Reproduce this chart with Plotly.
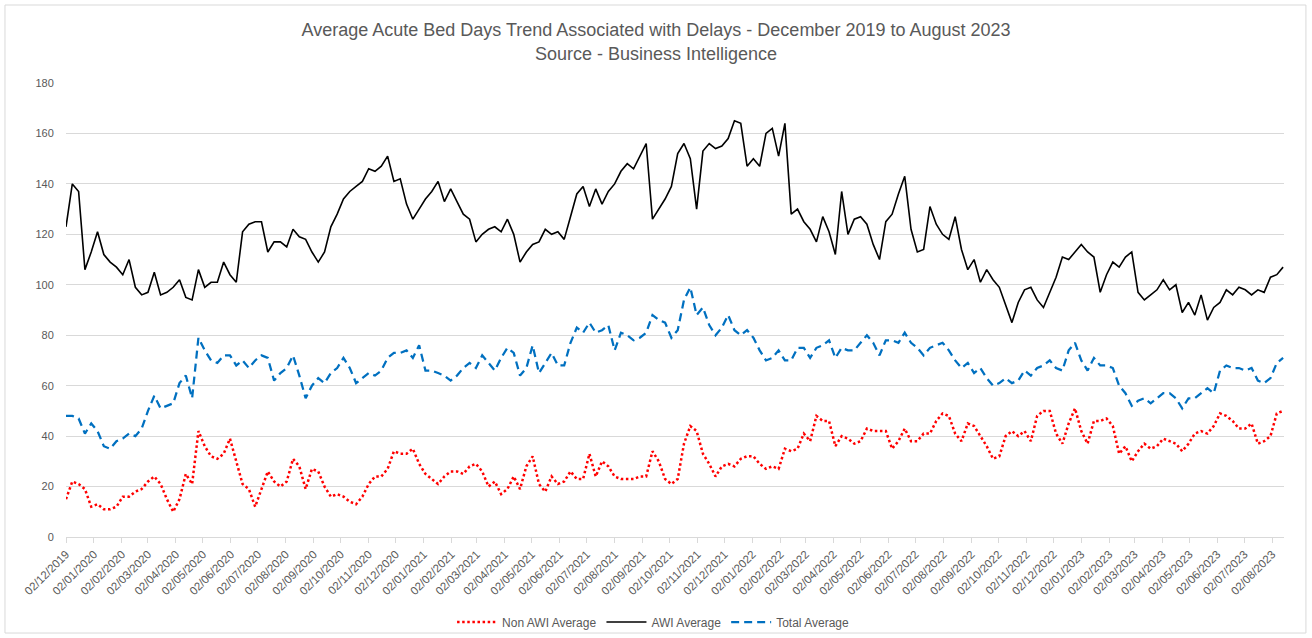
import pandas as pd
import plotly.graph_objects as go

# weekly sampled readings, starting 02/12/2019
start_date = "2019-12-02"

awi_average = [
    123, 140, 137, 106, 113, 121, 112, 109, 107, 104,
    110, 99, 96, 97, 105, 96, 97, 99, 102, 95,
    94, 106, 99, 101, 101, 109, 104, 101, 121, 124,
    125, 125, 113, 117, 117, 115, 122, 119, 118, 113,
    109, 113, 123, 128, 134, 137, 139, 141, 146, 145,
    147, 151, 141, 142, 132, 126, 130, 134, 137, 141,
    133, 138, 133, 128, 126, 117, 120, 122, 123, 121,
    126, 120, 109, 113, 116, 117, 122, 120, 121, 118,
    127, 136, 139, 131, 138, 132, 137, 140, 145, 148,
    146, 151, 156, 126, 130, 134, 139, 152, 156, 150,
    130, 153, 156, 154, 155, 158, 165, 164, 147, 150,
    147, 160, 162, 151, 164, 128, 130, 125, 122, 117,
    127, 121, 112, 137, 120, 126, 127, 124, 116, 110,
    125, 128, 136, 143, 122, 113, 114, 131, 124, 120,
    118, 127, 114, 106, 110, 101, 106, 102, 99, 92,
    85, 93, 98, 99, 94, 91, 97, 103, 111, 110,
    113, 116, 113, 111, 97, 104, 109, 107, 111, 113,
    97, 94, 96, 98, 102, 98, 100, 89, 93, 88,
    96, 86, 91, 93, 98, 96, 99, 98, 96, 98,
    97, 103, 104, 107,
]

total_average = [
    48, 48, 47, 41, 45, 42, 36, 35, 38, 39,
    41, 40, 43, 50, 56, 51, 52, 53, 61, 64,
    55, 79, 74, 70, 69, 72, 72, 68, 70, 67,
    70, 72, 71, 62, 65, 67, 72, 64, 55, 60,
    63, 61, 65, 67, 71, 67, 61, 63, 65, 64,
    66, 71, 73, 73, 74, 71, 76, 66, 66, 65,
    64, 62, 64, 67, 69, 67, 72, 69, 66, 71,
    75, 73, 64, 67, 76, 65, 69, 73, 68, 68,
    77, 83, 81, 85, 81, 82, 84, 74, 81, 80,
    78, 79, 81, 88, 86, 85, 79, 82, 94, 99,
    88, 91, 84, 80, 83, 88, 82, 80, 82, 79,
    74, 70, 71, 74, 70, 70, 75, 75, 71, 75,
    76, 78, 71, 75, 74, 74, 77, 80, 77, 72,
    78, 78, 77, 81, 77, 75, 72, 75, 76, 77,
    74, 70, 67, 69, 65, 67, 63, 60, 61, 63,
    61, 62, 66, 64, 67, 68, 70, 67, 66, 74,
    77, 70, 66, 71, 68, 68, 67, 60, 57, 52,
    54, 55, 53, 55, 57, 57, 55, 51, 55, 55,
    57, 59, 57, 66, 68, 67, 67, 66, 67, 62,
    61, 63, 69, 71,
]

non_awi_average = [
    15, 22, 21, 19, 12, 13, 11, 11, 12, 16,
    16, 18, 19, 22, 24, 21, 15, 10, 15, 25,
    21, 42, 36, 32, 31, 33, 39, 30, 21, 19,
    12, 19, 26, 22, 20, 22, 31, 28, 19, 27,
    26, 20, 16, 17, 16, 14, 13, 16, 21, 24,
    24, 27, 34, 33, 33, 35, 29, 25, 23, 21,
    24, 26, 26, 25, 28, 29, 26, 20, 22, 17,
    19, 24, 19, 28, 32, 21, 18, 24, 21, 22,
    26, 23, 23, 33, 24, 30, 28, 24, 23, 23,
    23, 24, 24, 34, 30, 23, 21, 23, 37, 44,
    42, 33, 29, 24, 28, 29, 28, 31, 32, 32,
    29, 27, 28, 27, 35, 34, 35, 41, 38, 48,
    46, 46, 36, 40, 39, 37, 38, 43, 42, 42,
    42, 35, 38, 43, 38, 38, 41, 41, 46, 49,
    48, 41, 38, 45, 44, 40, 36, 31, 32, 40,
    42, 40, 42, 38, 48, 50, 50, 41, 37, 45,
    51, 42, 37, 46, 46, 47, 44, 33, 36, 30,
    34, 37, 35, 36, 39, 38, 37, 34, 37, 41,
    42, 41, 44, 49, 48, 46, 43, 43, 45, 37,
    38, 40, 49, 50,
]

dates = pd.date_range(start_date, periods=len(awi_average), freq="7D")
tick_dates = pd.date_range(start_date, periods=45, freq=pd.DateOffset(months=1))
tick_labels = [d.strftime("%d/%m/%Y") for d in tick_dates]

title_text = ("Average Acute Bed Days Trend Associated with Delays - December 2019 to August 2023"
              "<br>Source - Business Intelligence")

FONT = "Liberation Sans, Arial, sans-serif"
GREY = "#595959"

fig = go.Figure()
fig.add_trace(go.Scatter(x=dates, y=non_awi_average, mode="lines", name="Non AWI Average",
                         line=dict(color="#FF0000", width=2.5, dash="2.5px,2.6px")))
fig.add_trace(go.Scatter(x=dates, y=awi_average, mode="lines", name="AWI Average",
                         line=dict(color="#000000", width=1.6)))
fig.add_trace(go.Scatter(x=dates, y=total_average, mode="lines", name="Total Average",
                         line=dict(color="#0070C0", width=2.25, dash="8px,5px")))

fig.update_layout(
    width=1312, height=638, autosize=False,
    margin=dict(l=66, r=28, t=83, b=101, autoexpand=False),
    paper_bgcolor="white", plot_bgcolor="white",
    title=dict(text=title_text, x=0.5, xanchor="center", xref="container",
               y=0.9428, yanchor="middle", yref="container",
               font=dict(family=FONT, size=18, color=GREY)),
    font=dict(family=FONT, color=GREY, size=11),
    legend=dict(orientation="h", x=0.482, xanchor="center", xref="paper",
                y=0.025, yanchor="middle", yref="container",
                font=dict(family=FONT, size=12, color=GREY), itemwidth=40,
                bgcolor="rgba(0,0,0,0)"),
    showlegend=True,
    xaxis=dict(type="date", range=["2019-12-02", "2023-08-15"], automargin=False,
               tickvals=tick_dates, ticktext=tick_labels, tickangle=-45,
               ticks="outside", ticklen=5, tickcolor="#d9d9d9",
               showline=True, linecolor="#d9d9d9", linewidth=1,
               showgrid=False, zeroline=False,
               tickfont=dict(family=FONT, size=11.5, color=GREY)),
    yaxis=dict(range=[0, 180], dtick=20, tick0=0, showgrid=True, gridcolor="#d9d9d9",
               gridwidth=1, zeroline=False, showline=False, automargin=False,
               ticks="outside", ticklen=9, tickcolor="rgba(0,0,0,0)",
               tickfont=dict(family=FONT, size=11, color=GREY)),
    shapes=[dict(type="rect", xref="paper", yref="paper",
                 x0=-0.0501, x1=1.018, y0=-0.2115, y1=1.1718,
                 line=dict(color="#d9d9d9", width=1), fillcolor="rgba(0,0,0,0)",
                 layer="below")],
)

fig.write_html("out.html", config={"displayModeBar": False},
               post_script="document.body.style.margin='0';")
